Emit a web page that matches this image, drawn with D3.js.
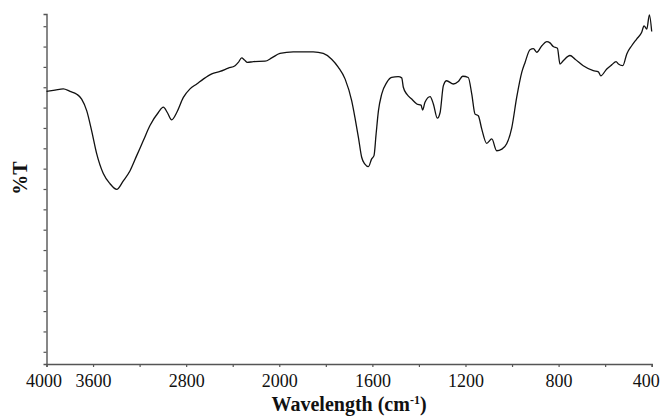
<!DOCTYPE html>
<head>
    <title>IR spectrum</title>
    <script src="https://d3js.org/d3.v7.min.js"></script>
    <style>
        body { margin: 0; background: #fff; }
        svg { display: block; }
    </style>
</head>
<body>
    <div id="home"></div>
    <script>
        // wavenumber (cm-1) and transmittance
        const wavenumber = [
            4000, 3927, 3856, 3798, 3740, 3698, 3654, 3612, 3569, 3512,
            3454, 3397, 3340, 3282, 3225, 3168, 3111, 3039, 2996, 2962,
            2924, 2881, 2824, 2767, 2709, 2653, 2580, 2509, 2438, 2380,
            2352, 2323, 2299, 2274, 2223, 2122, 2065, 1997, 1940, 1854,
            1811, 1775, 1746, 1717, 1689, 1675, 1660, 1646, 1632, 1617,
            1603, 1593, 1584, 1574, 1560, 1538, 1517, 1489, 1474, 1467,
            1452, 1431, 1409, 1391, 1384, 1374, 1352, 1338, 1321, 1309,
            1295, 1281, 1252, 1231, 1212, 1188, 1173, 1159, 1145, 1130,
            1109, 1087, 1066, 1044, 1023, 1001, 980, 958, 944, 923,
            908, 894, 872, 851, 837, 823, 805, 794, 780, 751,
            729, 694, 651, 629, 619, 593, 572, 553, 543, 524,
            507, 486, 464, 443, 433, 421, 410, 400
        ];
        const transmittance = [
            64.0, 64.3, 64.6, 64.0, 63.3, 62.1, 59.2, 54.3, 48.7, 43.8,
            41.3, 39.9, 42.0, 44.5, 48.2, 51.9, 55.6, 58.8, 60.1, 58.8,
            57.0, 58.8, 62.5, 64.6, 65.8, 67.0, 68.3, 68.9, 69.7, 70.3,
            71.1, 72.2, 71.7, 71.1, 71.3, 71.4, 72.2, 73.3, 73.7, 73.7,
            73.3, 71.9, 69.9, 67.0, 61.7, 57.6, 52.7, 47.8, 46.1, 45.5,
            47.4, 48.2, 53.5, 59.2, 63.3, 66.2, 67.4, 67.6, 67.3, 65.0,
            63.3, 62.1, 60.9, 60.6, 59.4, 61.3, 62.7, 60.9, 57.4, 58.8,
            65.4, 66.6, 65.8, 66.4, 67.7, 67.4, 63.3, 58.4, 58.0, 54.7,
            51.2, 52.3, 49.4, 49.8, 51.1, 55.1, 62.5, 68.7, 71.1, 74.2,
            74.5, 73.6, 75.2, 76.2, 75.9, 75.0, 74.6, 70.7, 71.5, 72.8,
            71.9, 70.3, 69.1, 68.8, 67.8, 69.5, 70.5, 71.3, 70.7, 70.3,
            73.2, 75.2, 76.9, 78.5, 80.1, 79.3, 82.8, 78.7
        ];

        const xTicks = [4000, 3600, 3200, 2800, 2400, 2000, 1800, 1600, 1400, 1200, 1000, 800, 600, 400];
        const xLabels = [4000, 3600, 2800, 2000, 1600, 1200, 800, 400];
        const yTicks = [0, 5, 10, 15, 20, 25, 30, 35, 40, 45, 50, 55, 60, 65, 70, 75, 80];

        const W = 663, H = 416;
        const margin = {top: 14, left: 46.5};
        const w = 605.2, h = 350;
        const serif = "'Liberation Serif', 'Times New Roman', serif";

        const data = wavenumber.map((d, i) => [d, transmittance[i]]);

        const svg = d3.select("#home")
                      .append("svg")
                      .attr("width", W)
                      .attr("height", H);

        const g = svg.append("g")
                     .attr("transform", `translate(${margin.left},${margin.top})`);

        // spectrometer style axis: scale changes at 2000 cm-1
        const xScale = d3.scaleLinear()
                         .domain([4000, 2000, 400])
                         .range([0, w * 5 / 13, w]);
        const yScale = d3.scaleLinear()
                         .domain([-3, 83])
                         .range([h, 0]);

        const xAxis = d3.axisBottom(xScale)
                        .tickValues(xTicks)
                        .tickSize(3)
                        .tickSizeOuter(3)
                        .tickPadding(7)
                        .tickFormat(d => xLabels.includes(d) ? d : "");
        const xg = g.append("g")
                    .attr("transform", `translate(0,${h})`)
                    .call(xAxis);
        xg.selectAll("text")
          .style("font-family", serif)
          .style("font-size", "18px")
          .attr("fill", "#111")
          .attr("dx", d => d === 4000 ? -3 : (d === 400 ? -6 : 0));

        const yAxis = d3.axisLeft(yScale)
                        .tickValues(yTicks)
                        .tickSize(3)
                        .tickSizeOuter(3)
                        .tickFormat("");
        const yg = g.append("g").call(yAxis);

        [xg, yg].forEach(a => {
            a.select(".domain").attr("stroke", "#555").attr("stroke-width", 1.4);
            a.selectAll(".tick line").attr("stroke", "#555").attr("stroke-width", 1.2);
        });

        const line = d3.line()
                       .x(d => xScale(d[0]))
                       .y(d => yScale(d[1]))
                       .curve(d3.curveMonotoneX);

        g.append("path")
         .datum(data)
         .attr("fill", "none")
         .attr("stroke", "#111")
         .attr("stroke-width", 1.3)
         .attr("d", line);

        // axis titles
        const xt = svg.append("text")
                      .attr("x", margin.left + w / 2)
                      .attr("y", 411)
                      .attr("text-anchor", "middle")
                      .style("font-family", serif)
                      .style("font-size", "20px")
                      .style("font-weight", "bold")
                      .attr("fill", "#111");
        xt.append("tspan").text("Wavelength (cm");
        xt.append("tspan").attr("dy", -7).style("font-size", "12px").text("-1");
        xt.append("tspan").attr("dy", 7).text(")");

        svg.append("text")
           .attr("transform", "translate(26.5,178) rotate(-90)")
           .attr("text-anchor", "middle")
           .style("font-family", serif)
           .style("font-size", "20px")
           .style("font-weight", "bold")
           .attr("fill", "#111")
           .text("%T");
    </script>
</body>
